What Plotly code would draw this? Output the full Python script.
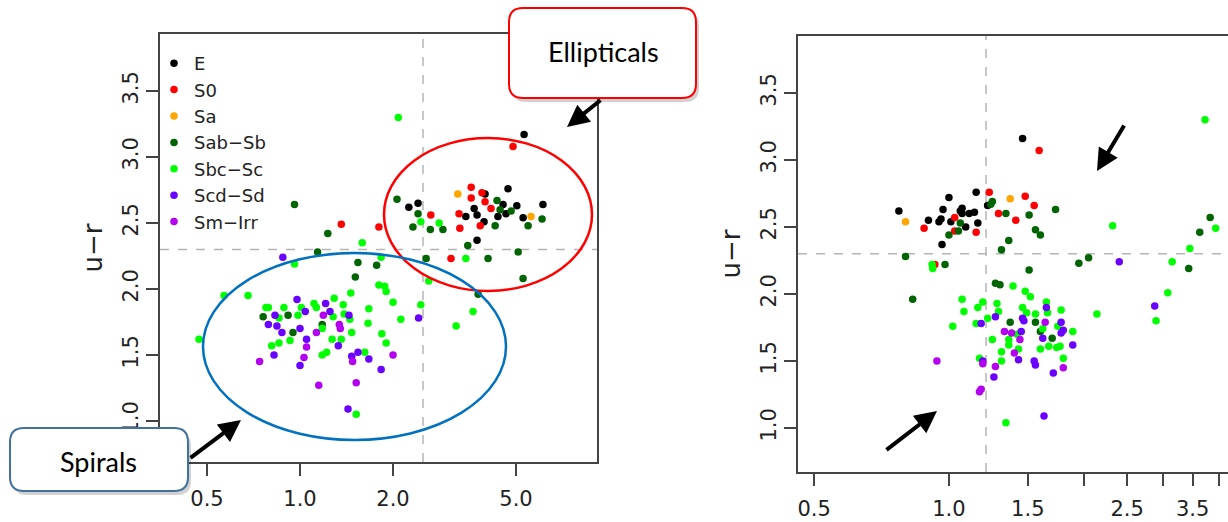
import plotly.graph_objects as go

W, H = 1228, 522

classes = ["E", "S0", "Sa", "Sab−Sb", "Sbc−Sc", "Scd−Sd", "Sm−Irr"]
colors = ["#000000", "#FF0000", "#FFA500", "#006400", "#00FF00", "#6A00FF", "#B400F0"]

# ---------------- left panel (x on log scale) ----------------
LE_x = [2.25, 2.41, 3.44, 3.66, 3.97, 4.71, 3.74, 3.74, 3.94, 4.54, 4.64, 4.37, 5.03, 5.27, 6.11, 5.31]
LE_y = [2.62, 2.65, 2.55, 2.61, 2.72, 2.76, 2.37, 2.56, 2.51, 2.64, 2.57, 2.55, 2.63, 2.54, 2.64, 3.17]
LS0_x = [2.65, 1.36, 1.80, 3.08, 3.27, 3.29, 3.58, 3.58, 3.88, 3.97, 4.15, 3.83, 4.89]
LS0_y = [2.56, 2.49, 2.47, 2.23, 2.57, 2.46, 2.77, 2.69, 2.73, 2.66, 2.61, 2.48, 3.08]
LSa_x = [3.24, 5.59]
LSa_y = [2.72, 2.55]
LSab_x = [0.96, 2.06, 2.41, 2.32, 2.64, 2.90, 1.23, 1.14, 1.54, 1.77, 2.56, 1.51, 3.49, 4.34, 4.44,
          4.82, 6.07, 5.47, 4.28, 4.06, 5.08, 5.27, 3.77, 0.76, 0.915, 0.949, 1.18]
LSab_y = [2.64, 2.68, 2.57, 2.47, 2.45, 2.45, 2.42, 2.28, 2.20, 2.18, 2.23, 2.09, 2.33, 2.67, 2.60,
          2.59, 2.53, 2.48, 2.48, 2.23, 2.28, 2.08, 1.96, 1.79, 1.80, 1.67, 1.73]
LSbc_x = [2.08, 2.46, 2.82, 1.59, 0.96, 1.83, 3.44, 2.61, 1.80, 1.88, 1.90, 1.46, 1.29, 3.63, 3.20,
          2.46, 2.00, 2.12, 0.568, 0.679, 0.471, 0.776, 0.79, 0.855, 0.887, 1.01, 0.985, 1.11, 1.13, 1.28,
          1.18, 1.38, 1.39, 1.45, 1.47, 1.67, 1.66, 1.84, 1.90, 0.928, 0.855, 0.81, 1.27, 1.36, 1.18,
          1.22, 1.62, 1.52]
LSbc_y = [3.30, 2.51, 2.50, 2.35, 2.19, 2.24, 2.23, 2.06, 2.03, 2.02, 1.98, 1.97, 1.93, 1.83, 1.72,
          1.88, 1.90, 1.77, 1.95, 1.95, 1.62, 1.86, 1.86, 1.78, 1.86, 1.86, 1.80, 1.89, 1.86, 1.79,
          1.70, 1.88, 1.81, 1.77, 1.67, 1.85, 1.74, 1.66, 1.59, 1.61, 1.59, 1.57, 1.62, 1.62, 1.50,
          1.52, 1.52, 1.05]
LScd_x = [0.88, 2.42, 0.83, 0.978, 1.04, 0.79, 0.842, 0.874, 1.00, 1.21, 1.25, 1.44, 1.05, 0.824, 1.00,
          1.33, 1.47, 1.54, 1.67, 1.83, 1.43]
LScd_y = [2.24, 1.78, 1.80, 1.92, 1.83, 1.73, 1.72, 1.67, 1.70, 1.89, 1.83, 1.80, 1.62, 1.50, 1.42,
          1.57, 1.49, 1.52, 1.47, 1.39, 1.09]
LSm_x = [1.19, 1.34, 1.35, 1.13, 1.05, 0.74, 1.03, 1.48, 2.00, 1.15, 1.52]
LSm_y = [1.80, 1.73, 1.70, 1.67, 1.56, 1.45, 1.48, 1.45, 1.50, 1.27, 1.29]

# ---------------- right panel (x on log scale) ----------------
RE_x = [0.773, 0.90, 0.95, 0.96, 1.00, 0.97, 1.01, 1.07, 1.06, 1.07, 1.09, 1.11, 1.14, 1.16, 1.15, 0.965, 1.22, 1.46]
RE_y = [2.62, 2.55, 2.54, 2.56, 2.72, 2.63, 2.54, 2.64, 2.62, 2.60, 2.50, 2.60, 2.61, 2.53, 2.76, 2.37, 2.66, 3.16]
RS0_x = [0.88, 1.03, 1.03, 1.15, 1.23, 1.29, 1.41, 1.48, 1.55, 1.59, 0.93]
RS0_y = [2.49, 2.57, 2.47, 2.46, 2.76, 2.60, 2.55, 2.73, 2.66, 3.07, 2.22]
RSa_x = [0.80, 1.37]
RSa_y = [2.54, 2.71]
RSab_x = [1.06, 1.05, 1.00, 1.24, 1.25, 1.34, 1.51, 1.56, 1.60, 1.73, 1.36, 1.31, 0.80, 0.98, 1.51,
          1.95, 2.05, 3.83, 3.63, 3.43, 1.27, 1.30, 0.83, 1.37, 1.56, 1.60, 1.70]
RSab_y = [2.53, 2.47, 2.44, 2.67, 2.69, 2.60, 2.59, 2.48, 2.44, 2.63, 2.40, 2.33, 2.28, 2.22, 2.18,
          2.23, 2.27, 2.57, 2.46, 2.19, 2.08, 2.07, 1.96, 1.79, 1.79, 1.72, 1.67]
RSbc_x = [0.917, 0.92, 2.32, 3.73, 3.94, 3.45, 3.15, 3.08, 2.90, 2.14, 1.39, 1.48, 1.52, 1.07, 1.19,
          1.08, 1.16, 1.28, 1.29, 1.22, 1.15, 1.02, 1.46, 1.49, 1.56, 1.65, 1.66, 1.78, 1.75, 1.89,
          1.62, 1.42, 1.36, 1.25, 1.36, 1.43, 1.31, 1.31, 1.60, 1.67, 1.74, 1.77, 1.80, 1.17, 1.34]
RSbc_y = [2.22, 2.19, 2.51, 3.30, 2.49, 2.34, 2.24, 2.01, 1.80, 1.85, 2.06, 2.02, 1.98, 1.96, 1.94,
          1.87, 1.90, 1.93, 1.87, 1.82, 1.78, 1.76, 1.90, 1.86, 1.85, 1.94, 1.86, 1.88, 1.76, 1.72,
          1.74, 1.70, 1.66, 1.66, 1.62, 1.59, 1.57, 1.50, 1.59, 1.61, 1.60, 1.61, 1.52, 1.52, 1.04]
RScd_x = [2.40, 2.88, 1.18, 1.27, 1.46, 1.47, 1.65, 1.78, 1.80, 1.78, 1.62, 1.45, 1.43, 1.89, 1.55,
          1.56, 1.71, 1.19, 1.26, 1.63]
RScd_y = [2.24, 1.91, 1.78, 1.83, 1.82, 1.80, 1.90, 1.79, 1.73, 1.71, 1.67, 1.72, 1.51, 1.62, 1.50,
          1.47, 1.41, 1.50, 1.38, 1.09]
RSm_x = [1.64, 1.33, 1.38, 1.44, 1.40, 1.80, 1.19, 1.27, 1.18, 1.17, 0.94]
RSm_y = [1.79, 1.72, 1.71, 1.66, 1.56, 1.45, 1.48, 1.46, 1.29, 1.27, 1.50]

# axis settings
left_xticks = [0.5, 1.0, 2.0, 5.0]
left_xlabels = ["0.5", "1.0", "2.0", "5.0"]
right_xticks = [0.5, 1.0, 1.5, 2.0, 2.5, 3.0, 3.5, 4.0]
right_xlabels = ["0.5", "1.0", "1.5", "", "2.5", "", "3.5", ""]
yticks = [1.0, 1.5, 2.0, 2.5, 3.0, 3.5]
ylabels = ["1.0", "1.5", "2.0", "2.5", "3.0", "3.5"]
left_xrange = [-0.453, 0.961]   # log10 units
left_yrange = [0.689, 3.932]
right_xrange = [-0.337, 0.623]
right_yrange = [0.672, 3.925]
color_cut = 2.3
left_xcut = 2.5
right_xcut = 1.21

left_sets = [(LE_x, LE_y), (LS0_x, LS0_y), (LSa_x, LSa_y), (LSab_x, LSab_y),
             (LSbc_x, LSbc_y), (LScd_x, LScd_y), (LSm_x, LSm_y)]
right_sets = [(RE_x, RE_y), (RS0_x, RS0_y), (RSa_x, RSa_y), (RSab_x, RSab_y),
              (RSbc_x, RSbc_y), (RScd_x, RScd_y), (RSm_x, RSm_y)]

fig = go.Figure()

dash_style = dict(color="#b5b5b5", width=1.5, dash="dash")
# reference lines (behind points)
fig.add_trace(go.Scatter(x=[10 ** left_xrange[0], 10 ** left_xrange[1]], y=[color_cut, color_cut],
                         mode="lines", line=dash_style, showlegend=False, hoverinfo="skip",
                         xaxis="x", yaxis="y"))
fig.add_trace(go.Scatter(x=[left_xcut, left_xcut], y=left_yrange, mode="lines", line=dash_style,
                         showlegend=False, hoverinfo="skip", xaxis="x", yaxis="y"))
fig.add_trace(go.Scatter(x=[10 ** right_xrange[0], 10 ** right_xrange[1]], y=[color_cut, color_cut],
                         mode="lines", line=dash_style, showlegend=False, hoverinfo="skip",
                         xaxis="x2", yaxis="y2"))
fig.add_trace(go.Scatter(x=[right_xcut, right_xcut], y=right_yrange, mode="lines", line=dash_style,
                         showlegend=False, hoverinfo="skip", xaxis="x2", yaxis="y2"))

for name, col, (xs, ys) in zip(classes, colors, left_sets):
    fig.add_trace(go.Scatter(x=xs, y=ys, mode="markers", name=name,
                             marker=dict(color=col, size=7.5, line=dict(width=0)),
                             xaxis="x", yaxis="y", legendgroup=name))
for name, col, (xs, ys) in zip(classes, colors, right_sets):
    fig.add_trace(go.Scatter(x=xs, y=ys, mode="markers", name=name, showlegend=False,
                             marker=dict(color=col, size=7.5, line=dict(width=0)),
                             xaxis="x2", yaxis="y2", legendgroup=name))

tickfont = dict(family="DejaVu Sans", size=21, color="#222222")
axis_common = dict(showline=True, linewidth=2, linecolor="#444444", ticks="outside", ticklen=12,
                   tickwidth=2, tickcolor="#444444", showgrid=False, zeroline=False,
                   tickfont=tickfont, automargin=False)


def X(px):
    return px / W


def Y(py):
    return 1 - py / H


fig.update_layout(
    width=W, height=H, margin=dict(l=0, r=0, t=0, b=0),
    paper_bgcolor="white", plot_bgcolor="white", template="none",
    font=dict(family="DejaVu Sans", color="#222222"),
    xaxis=dict(type="log", range=left_xrange, domain=[X(160), X(597)], anchor="y",
               tickvals=left_xticks, ticktext=left_xlabels, mirror=True, ticklabelstandoff=5,
               **axis_common),
    yaxis=dict(range=left_yrange, domain=[Y(462), Y(34)], anchor="x", tickvals=yticks,
               ticktext=ylabels, tickangle=-90, mirror=True,
               title=dict(text="u−r", font=dict(family="DejaVu Sans", size=26, color="#222222"),
                          standoff=8), **axis_common),
    xaxis2=dict(type="log", range=right_xrange, domain=[X(798), 1.0], anchor="y2",
                tickvals=right_xticks, ticktext=right_xlabels, mirror=True, ticklabelstandoff=5,
                **axis_common),
    yaxis2=dict(range=right_yrange, domain=[Y(472), Y(36)], anchor="x2", tickvals=yticks,
                ticktext=ylabels, tickangle=-90, mirror=False,
                title=dict(text="u−r", font=dict(family="DejaVu Sans", size=26, color="#222222"),
                           standoff=8), **axis_common),
    legend=dict(x=X(154), y=Y(45), xanchor="left", yanchor="top", bgcolor="rgba(0,0,0,0)",
                font=dict(family="DejaVu Sans", size=18, color="#222222"), itemwidth=30,
                tracegroupgap=0),
    showlegend=True,
)


def rrect(x0, y0, x1, y1, r):
    pts = [
        ("M", (x0 + r, y0)), ("L", (x1 - r, y0)), ("Q", (x1, y0), (x1, y0 + r)),
        ("L", (x1, y1 - r)), ("Q", (x1, y1), (x1 - r, y1)), ("L", (x0 + r, y1)),
        ("Q", (x0, y1), (x0, y1 - r)), ("L", (x0, y0 + r)), ("Q", (x0, y0), (x0 + r, y0)),
    ]
    s = ""
    for item in pts:
        coords = " ".join(f"{X(p[0]):.5f},{Y(p[1]):.5f}" for p in item[1:])
        s += f"{item[0]} {coords} "
    return s + "Z"


shapes = []
# ellipses
shapes.append(dict(type="circle", xref="paper", yref="paper", x0=X(384), x1=X(592), y0=Y(291), y1=Y(138),
                   line=dict(color="#FF0000", width=2.5), layer="above"))
shapes.append(dict(type="circle", xref="paper", yref="paper", x0=X(203), x1=X(506), y0=Y(440), y1=Y(253),
                   line=dict(color="#0070C0", width=2.5), layer="above"))
# callout shadows + boxes
for (x0, y0, x1, y1, col) in [(509, 8, 696, 98, "#FF0000"), (10, 428, 188, 491, "#41719C")]:
    shapes.append(dict(type="path", xref="paper", yref="paper", path=rrect(x0 + 3, y0 + 4, x1 + 3, y1 + 4, 14),
                       fillcolor="rgba(0,0,0,0.18)", line=dict(width=0), layer="above"))
    shapes.append(dict(type="path", xref="paper", yref="paper", path=rrect(x0, y0, x1, y1, 14),
                       fillcolor="white", line=dict(color=col, width=2), layer="above"))
fig.update_layout(shapes=shapes)

annotations = [
    dict(text="Ellipticals", x=X(603), y=Y(51), xref="paper", yref="paper", showarrow=False,
         xanchor="center", yanchor="middle", font=dict(family="Lato", size=27, color="black")),
    dict(text="Spirals", x=X(99), y=Y(461), xref="paper", yref="paper", showarrow=False,
         xanchor="center", yanchor="middle", font=dict(family="Lato", size=27, color="black")),
]
arrows = [((189, 459), (241, 420)), ((602, 99), (567, 127)), ((1125, 124), (1097, 171)), ((885, 451), (937, 411))]
for (tx, ty), (hx, hy) in arrows:
    annotations.append(dict(text="", x=X(hx), y=Y(hy), xref="paper", yref="paper", showarrow=True,
                            ax=tx - hx, ay=ty - hy, axref="pixel", ayref="pixel", arrowhead=2,
                            arrowsize=1.1, arrowwidth=4, arrowcolor="black", standoff=0, startstandoff=0))
fig.update_layout(annotations=annotations)

fig.write_html("out.html")
